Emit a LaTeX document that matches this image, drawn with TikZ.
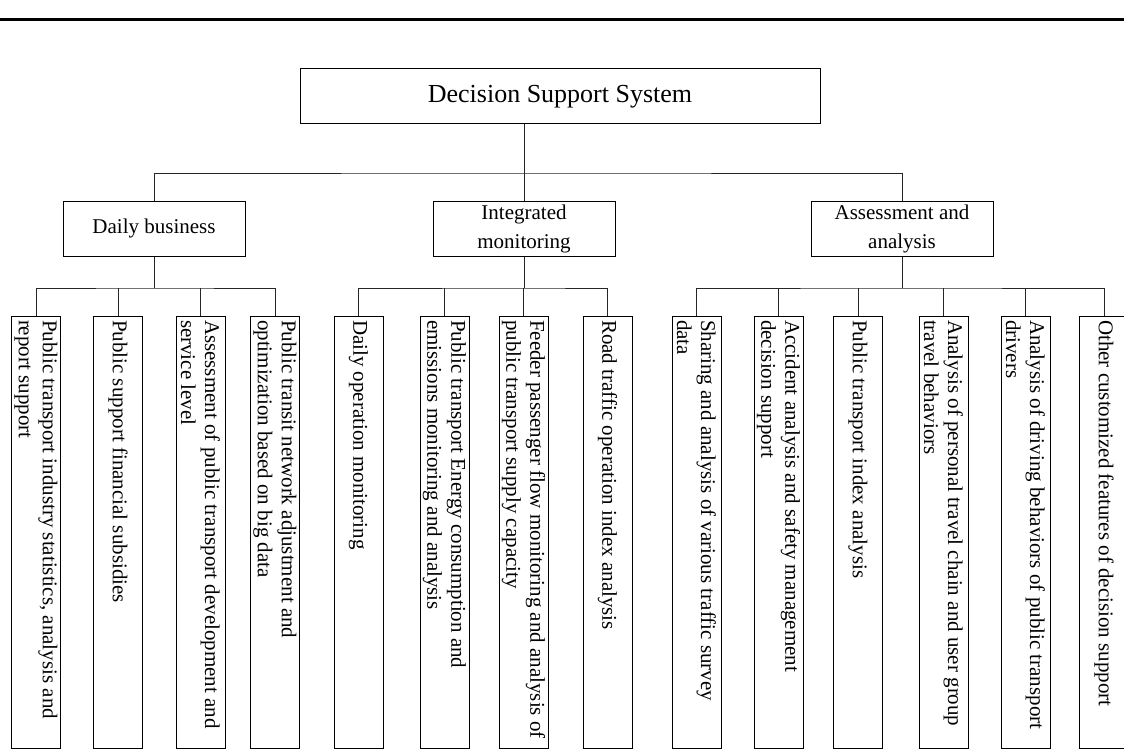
\documentclass[tikz,border=0pt]{standalone}
\usepackage{fontspec}
\setmainfont{Liberation Serif}
\begin{document}
\begin{tikzpicture}[x=1pt,y=-1pt,
  box/.style={draw=black, line width=1pt, inner sep=2pt, align=center},
  topbox/.style={box, minimum width=520pt, minimum height=55pt, font=\fontsize{26}{30}\selectfont},
  midbox/.style={box, minimum width=182pt, minimum height=55pt, font=\fontsize{21}{29}\selectfont},
  leaf/.style={draw=black, line width=1pt, rotate=-90, minimum width=432pt, minimum height=49pt,
    inner sep=0pt, text width=424pt, align=flush left, font=\fontsize{21}{24}\selectfont},
  link/.style={draw=black!85, line width=0.9pt}]
\useasboundingbox (0,0) rectangle (1124,749);

% header rule
\draw[line width=3pt] (0,20) -- (1124,20);

% root and first level
\node[topbox] (root) at (560,96.5) {Decision Support System};
\node[midbox] (daily) at (154,228.5) {Daily business};
\node[midbox] (integ) at (524,228.5) {Integrated\\monitoring};
\node[midbox] (assess) at (902,228.5) {Assessment and\\analysis};

% leaves
\node[leaf] (d1) at (36,532)    {Public transport industry statistics, analysis and\\report support};
\node[leaf] (d2) at (118,532)   {Public support financial subsidies};
\node[leaf] (d3) at (200.5,532) {Assessment of public transport development and\\service level};
\node[leaf] (d4) at (275,532)   {Public transit network adjustment and\\optimization based on big data};
\node[leaf] (m1) at (358.5,532) {Daily operation monitoring};
\node[leaf] (m2) at (444.5,532) {Public transport Energy consumption and\\emissions monitoring and analysis};
\node[leaf] (m3) at (523.5,532) {Feeder passenger flow monitoring and analysis of\\public transport supply capacity};
\node[leaf] (m4) at (607.5,532) {Road traffic operation index analysis};
\node[leaf] (a1) at (696.5,532) {Sharing and analysis of various traffic survey\\data};
\node[leaf] (a2) at (778.5,532) {Accident analysis and safety management\\decision support};
\node[leaf] (a3) at (858,532)   {Public transport index analysis};
\node[leaf] (a4) at (943.5,532) {Analysis of personal travel chain and user group\\travel behaviors};
\node[leaf] (a5) at (1025.5,532){Analysis of driving behaviors of public transport\\drivers};
\node[leaf] (a6) at (1104,532)  {Other customized features of decision support};

% bus coordinates
\coordinate (bus0) at (524,173);
\coordinate (busd) at (154,288);
\coordinate (busm) at (524,288);
\coordinate (busa) at (902,288);

% root to first level
\draw[link] (root.south -| integ) -- (integ.north);
\draw[link] (daily.north) |- (bus0) -| (assess.north);

% first level to leaves
\draw[link] (daily.south) -- (busd);
\draw[link] (d1.west) |- (busd) -| (d4.west);
\draw[link] (d2.west) -- (d2.west |- busd);
\draw[link] (d3.west) -- (d3.west |- busd);

\draw[link] (integ.south) -- (busm);
\draw[link] (m1.west) |- (busm) -| (m4.west);
\draw[link] (m2.west) -- (m2.west |- busm);
\draw[link] (m3.west) -- (m3.west |- busm);

\draw[link] (assess.south) -- (busa);
\draw[link] (a1.west) |- (busa) -| (a6.west);
\draw[link] (a2.west) -- (a2.west |- busa);
\draw[link] (a3.west) -- (a3.west |- busa);
\draw[link] (a4.west) -- (a4.west |- busa);
\draw[link] (a5.west) -- (a5.west |- busa);
\end{tikzpicture}
\end{document}
